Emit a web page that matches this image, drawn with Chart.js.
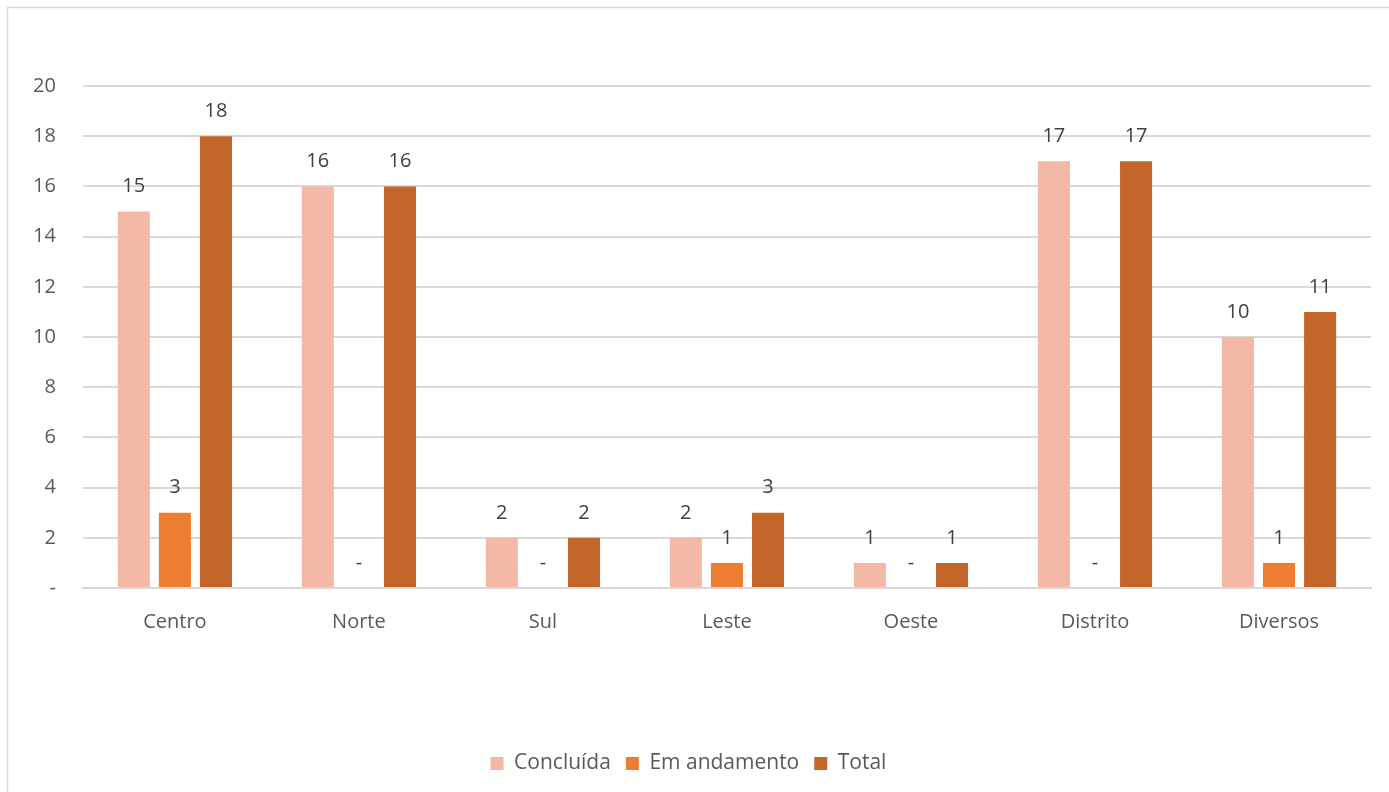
<!DOCTYPE html>
<html>
<head>
<meta charset="utf-8">
<script src="https://cdn.jsdelivr.net/npm/chart.js@4.4.0/dist/chart.umd.min.js"></script>
<style>
  html, body { margin: 0; padding: 0; background: #fff; }
  #wrap { width: 1389px; height: 792px; position: relative; }
</style>
</head>
<body>
<div id="wrap"><canvas id="grafico" width="1389" height="792"></canvas></div>
<script>
const regioes = ['Centro', 'Norte', 'Sul', 'Leste', 'Oeste', 'Distrito', 'Diversos'];
const concluida = [15, 16, 2, 2, 1, 17, 10];
const emAndamento = [3, 0, 0, 1, 0, 0, 1];
const total = [18, 16, 2, 3, 1, 17, 11];
const yTicks = [0, 2, 4, 6, 8, 10, 12, 14, 16, 18, 20];

const cores = ['#F4B9A6', '#ED7D31', '#C4662A'];
const fonte = '"Open Sans", sans-serif';

function fmt(v) {
    return v === 0 ? '-' : String(v);
}

// borda da moldura (so esquerda e topo aparecem no recorte)
const moldura = {
    id: 'moldura',
    beforeDraw(chart) {
        const ctx = chart.ctx;
        ctx.save();
        ctx.strokeStyle = '#D9D9D9';
        ctx.lineWidth = 1.5;
        ctx.beginPath();
        ctx.moveTo(7.5, 800);
        ctx.lineTo(7.5, 7.5);
        ctx.lineTo(1400, 7.5);
        ctx.stroke();
        ctx.restore();
    }
};

// rotulos de valor acima das barras
const rotulos = {
    id: 'rotulos',
    afterDatasetsDraw(chart) {
        const ctx = chart.ctx;
        ctx.save();
        ctx.font = '20px ' + fonte;
        ctx.fillStyle = '#404040';
        ctx.textAlign = 'center';
        ctx.textBaseline = 'middle';
        chart.data.datasets.forEach((ds, i) => {
            chart.getDatasetMeta(i).data.forEach((bar, j) => {
                ctx.fillText(fmt(ds.data[j]), bar.x, bar.y - 25);
            });
        });
        ctx.restore();
    }
};

const data = {
    labels: regioes,
    datasets: [
        { label: 'Concluída', data: concluida, backgroundColor: cores[0] },
        { label: 'Em andamento', data: emAndamento, backgroundColor: cores[1] },
        { label: 'Total', data: total, backgroundColor: cores[2] }
    ]
};

const config = {
    type: 'bar',
    data: data,
    options: {
        responsive: false,
        animation: false,
        datasets: { bar: { categoryPercentage: 0.67, barPercentage: 0.78 } },
        layout: { padding: { top: 86, right: 18, left: 6, bottom: 8 } },
        plugins: {
            title: { display: false },
            tooltip: { enabled: false },
            legend: {
                position: 'bottom',
                labels: {
                    boxWidth: 13,
                    boxHeight: 13,
                    padding: 15,
                    color: '#595959',
                    font: { size: 21, family: fonte }
                }
            }
        },
        scales: {
            x: {
                grid: { display: false },
                border: { color: '#D9D9D9', width: 2 },
                ticks: {
                    color: '#595959',
                    padding: 14,
                    font: { size: 20, family: fonte }
                },
                afterFit(scale) { scale.height += 90; }
            },
            y: {
                min: 0,
                max: 20,
                afterBuildTicks(scale) { scale.ticks = yTicks.map(v => ({ value: v })); },
                grid: { color: '#D9D9D9', lineWidth: 2, drawTicks: false },
                border: { display: false },
                ticks: {
                    color: '#595959',
                    padding: 27,
                    font: { size: 20, family: fonte },
                    callback: v => fmt(v)
                }
            }
        }
    },
    plugins: [moldura, rotulos]
};

let ctx = document.getElementById('grafico').getContext('2d');
new Chart(ctx, config);
</script>
</body>
</html>
